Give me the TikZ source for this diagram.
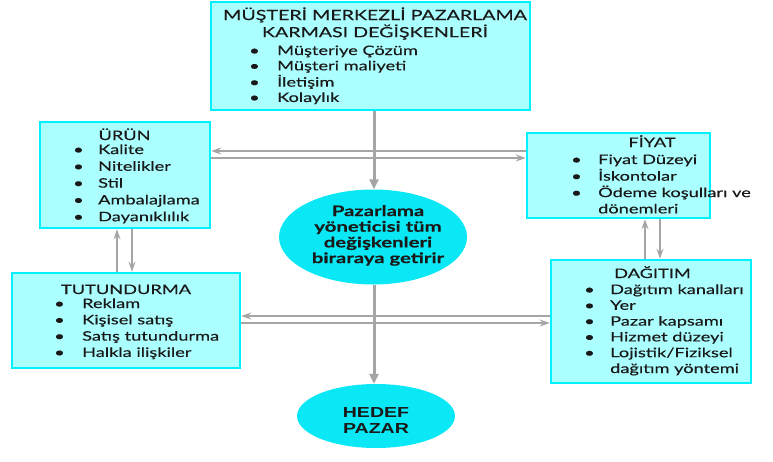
\documentclass[tikz,border=0pt]{standalone}
\usepackage{fontspec}
\setmainfont{Lato}[FakeStretch=1.4, FakeBold=0.35]
\newfontfamily\arialb{Liberation Sans}[FakeStretch=1.35]
\usetikzlibrary{arrows.meta,shapes.geometric}
\definecolor{boxfill}{RGB}{172,255,255}
\definecolor{boxline}{RGB}{0,240,255}
\definecolor{ellfill}{RGB}{10,232,245}
\definecolor{conn}{RGB}{165,165,165}
\definecolor{txt}{RGB}{25,25,25}
\newcommand\blist[2]{\begin{tabular}[t]{@{}p{#1}@{}l@{}}#2\end{tabular}}
\newcommand\ctab[1]{\begin{tabular}[t]{@{}c@{}}#1\end{tabular}}
\tikzset{
  mixbox/.style={draw=boxline, fill=boxfill, line width=2.5pt, rectangle, inner sep=0pt},
  goal/.style={ellipse, fill=ellfill, draw=none, inner sep=0pt},
  ttl/.style={anchor=base, inner sep=0pt, text=txt},
  lst/.style={anchor=base west, inner sep=0pt, text=txt},
  mainarrow/.style={draw=conn, line width=3pt, -{Triangle[length=10pt,width=9pt]}},
  linkarrow/.style={draw=conn, line width=1.8pt, -{Stealth[length=10pt,width=7pt]}},
}
\begin{document}
\begin{tikzpicture}[x=1pt,y=-1pt]
\useasboundingbox (0,0) rectangle (773,461);
% boxes
\node[mixbox, minimum width=319pt, minimum height=108pt] (top) at (370.5,56) {};
\node[mixbox, minimum width=170pt, minimum height=106pt] (urun) at (125,175) {};
\node[mixbox, minimum width=183pt, minimum height=85pt] (fiyat) at (618.5,175.5) {};
\node[mixbox, minimum width=228pt, minimum height=95pt] (tut) at (126,320.5) {};
\node[mixbox, minimum width=200pt, minimum height=123pt] (dag) at (651,321.5) {};
\node[goal, minimum width=188pt, minimum height=95pt] (pyt) at (373,237) {};
\node[goal, minimum width=158pt, minimum height=64pt] (hedef) at (376,416) {};
% texts
\node[ttl, font=\fontsize{14}{15}\selectfont] (toptitle) at (375,20)
  {\ctab{MÜŞTERİ MERKEZLİ PAZARLAMA\\KARMASI DEĞİŞKENLERİ}};
\node[lst, font=\fontsize{13}{15.3}\selectfont] (toplist) at (249,55)
  {\blist{28pt}{\textbullet & Müşteriye Çözüm\\ \textbullet & Müşteri maliyeti\\ \textbullet & İletişim\\ \textbullet & Kolaylık}};
\node[ttl, font=\fontsize{13}{17}\selectfont] (urunttl) at (124.5,140) {ÜRÜN};
\node[lst, font=\fontsize{13}{16.8}\selectfont] (urunlist) at (73,154)
  {\blist{25pt}{\textbullet & Kalite\\ \textbullet & Nitelikler\\ \textbullet & Stil\\ \textbullet & Ambalajlama\\ \textbullet & Dayanıklılık}};
\node[ttl, font=\fontsize{13}{17}\selectfont] (fiyatttl) at (652,147) {FİYAT};
\node[lst, font=\fontsize{13}{16.3}\selectfont] (fiyatlist) at (571,164)
  {\blist{27pt}{\textbullet & Fiyat Düzeyi\\ \textbullet & İskontolar\\ \textbullet & Ödeme koşulları ve\\ & dönemleri}};
\node[ttl, font=\fontsize{13}{17}\selectfont] (tutttl) at (126,294) {TUTUNDURMA};
\node[lst, font=\fontsize{13}{16.3}\selectfont] (tutlist) at (54,308)
  {\blist{28pt}{\textbullet & Reklam\\ \textbullet & Kişisel satış\\ \textbullet & Satış tutundurma\\ \textbullet & Halkla ilişkiler}};
\node[ttl, font=\fontsize{13}{17}\selectfont] (dagttl) at (652.5,278) {DAĞITIM};
\node[lst, font=\fontsize{13}{15.8}\selectfont] (daglist) at (584,294)
  {\blist{26pt}{\textbullet & Dağıtım kanalları\\ \textbullet & Yer\\ \textbullet & Pazar kapsamı\\ \textbullet & Hizmet düzeyi\\ \textbullet & Lojistik/Fiziksel\\ & dağıtım yöntemi}};
\node[ttl, font=\bfseries\fontsize{14.5}{15.7}\selectfont] (pyttxt) at (378,216)
  {\ctab{Pazarlama\\yöneticisi tüm\\değişkenleri\\biraraya getirir}};
\node[ttl, font=\arialb\bfseries\fontsize{14.5}{16}\selectfont] (hedeftxt) at (376,417)
  {\ctab{HEDEF\\PAZAR}};
% connectors
\draw[linkarrow] (fiyat.west |- 0,151) -- (urun.east |- 0,151);
\draw[linkarrow] (urun.east |- 0,158) -- (fiyat.west |- 0,158);
\draw[linkarrow] (dag.west |- 0,316) -- (tut.east |- 0,316);
\draw[linkarrow] (tut.east |- 0,323) -- (dag.west |- 0,323);
\draw[linkarrow] (117,0 |- tut.north) -- (117,0 |- urun.south);
\draw[linkarrow] (132,0 |- urun.south) -- (132,0 |- tut.north);
\draw[linkarrow] (645,0 |- dag.north) -- (645,0 |- fiyat.south);
\draw[linkarrow] (660,0 |- fiyat.south) -- (660,0 |- dag.north);
\draw[mainarrow] (374,0 |- top.south) -- (374,0 |- pyt.north);
\draw[mainarrow] (374,0 |- pyt.south) -- (374,0 |- hedef.north);
\end{tikzpicture}
\end{document}
